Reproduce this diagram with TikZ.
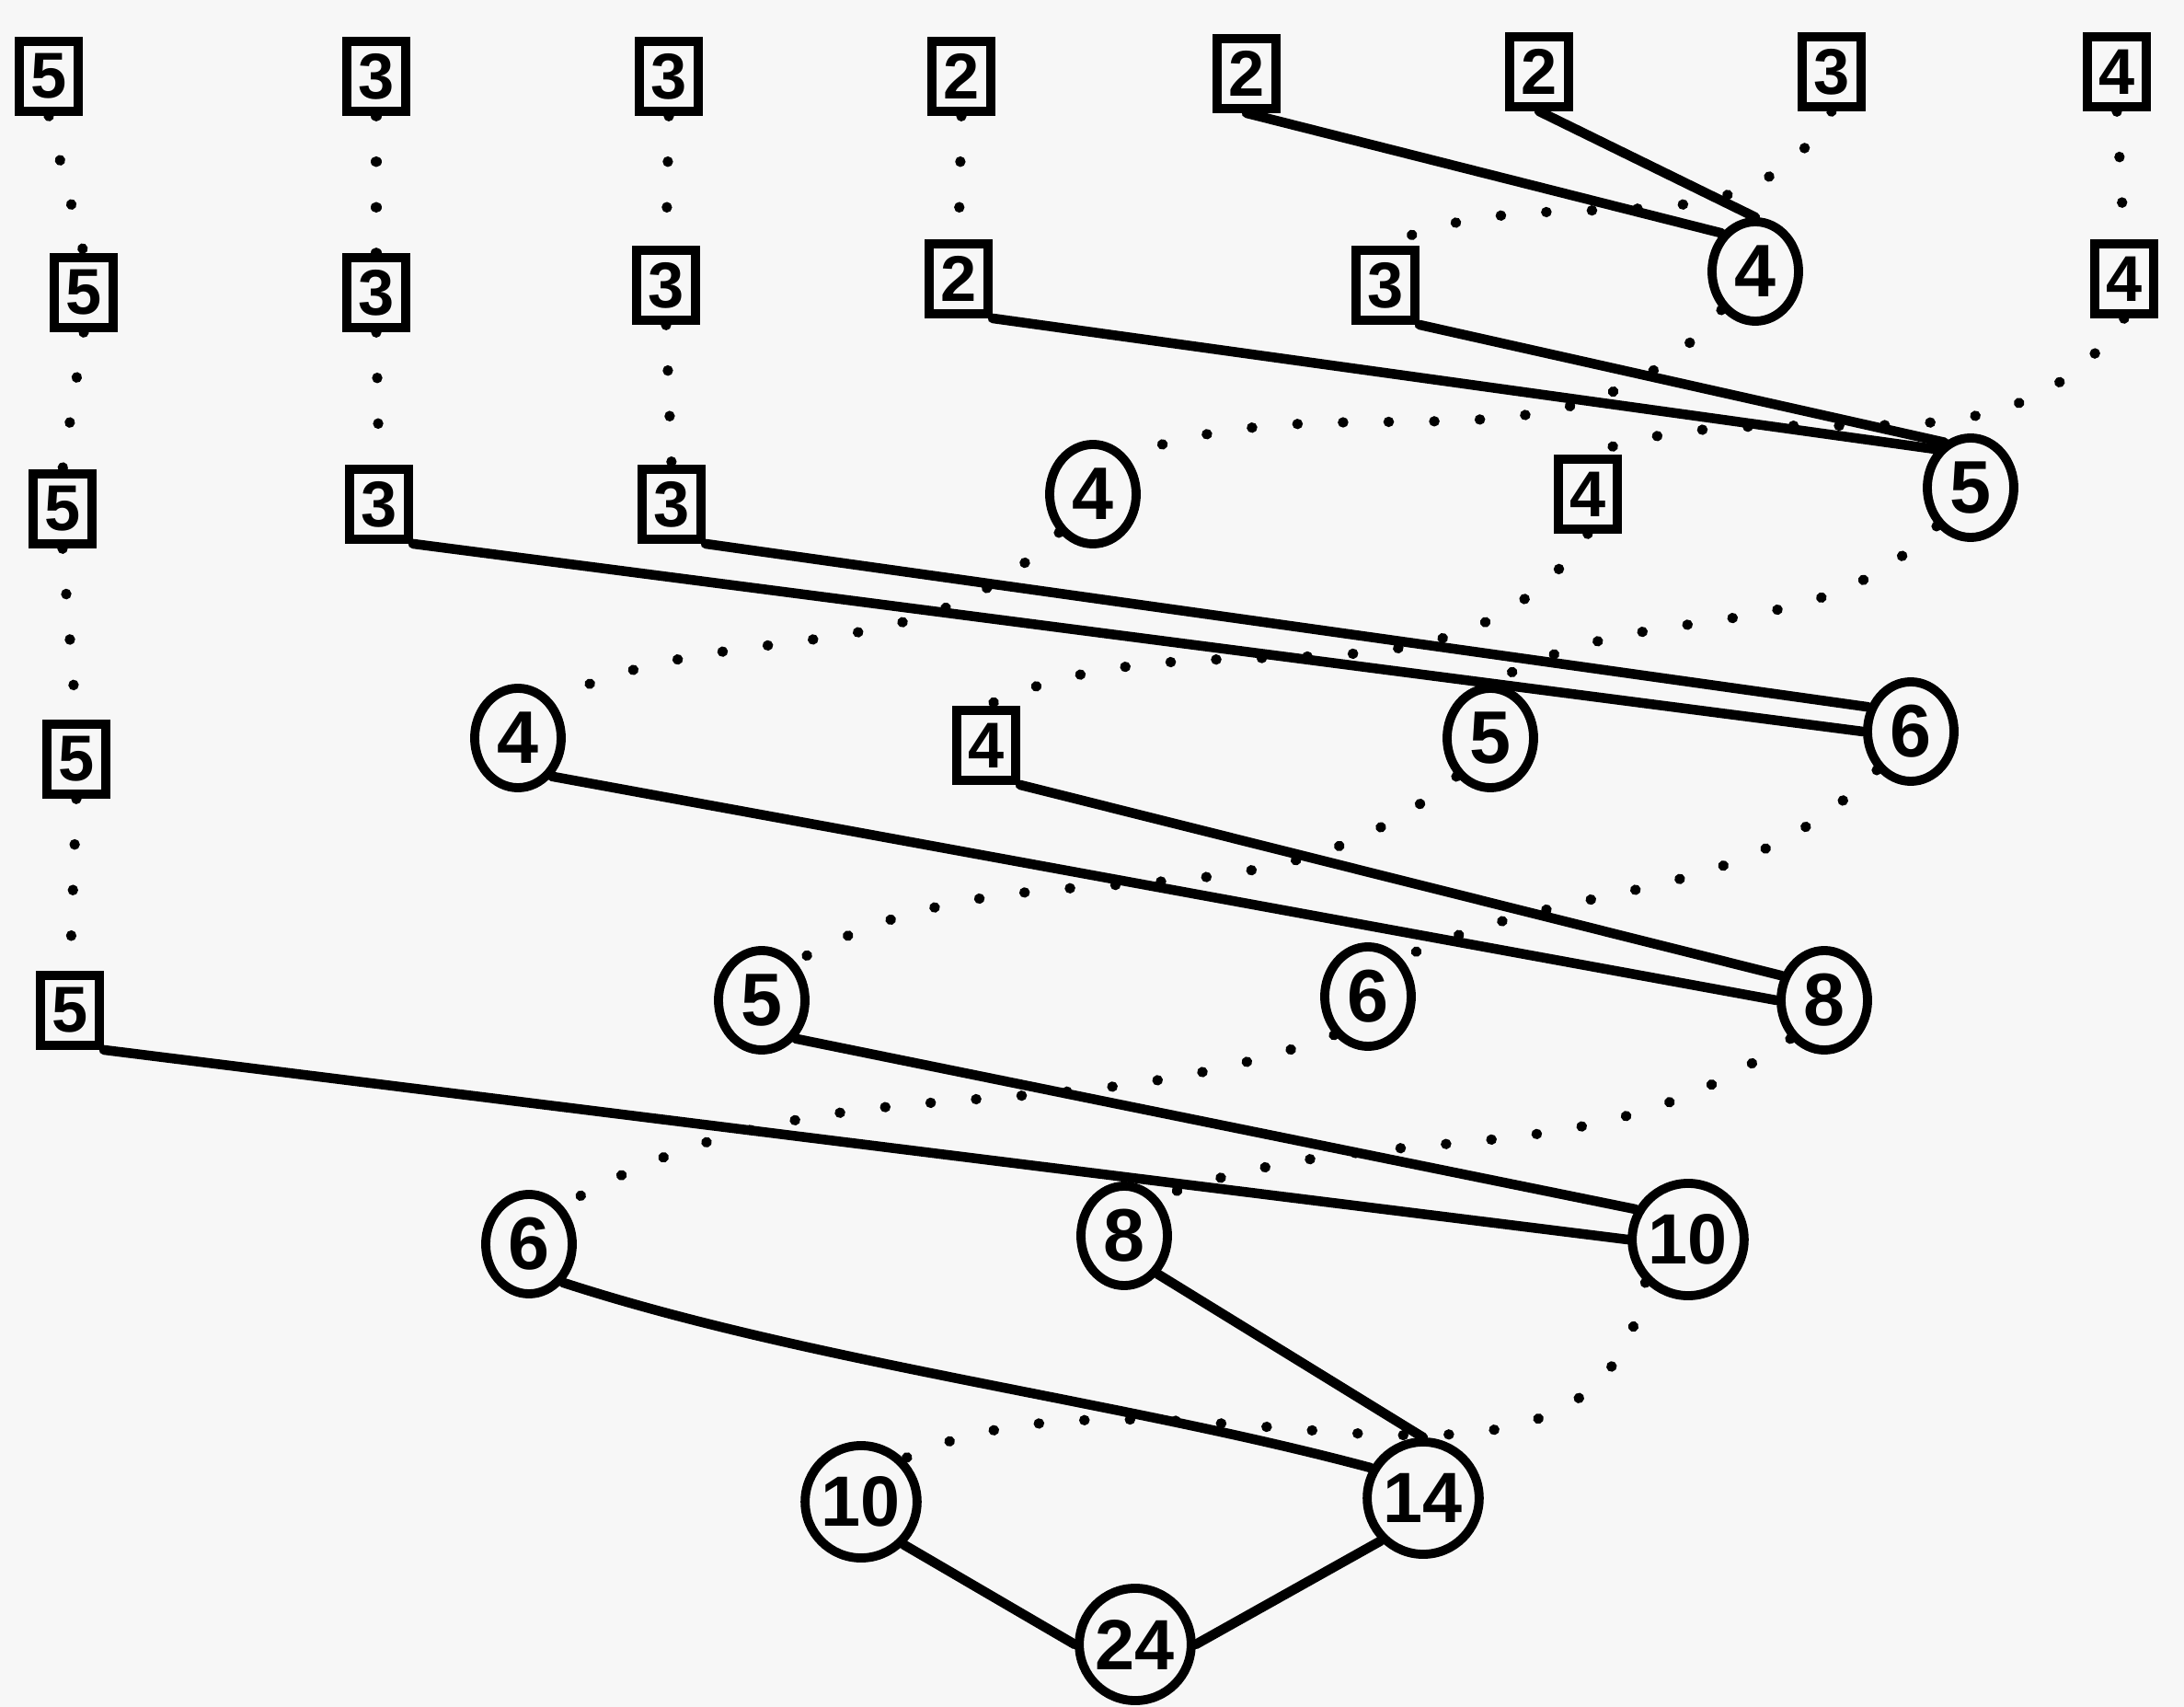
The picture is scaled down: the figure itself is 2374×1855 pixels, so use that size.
\documentclass[tikz,border=0pt]{standalone}
\usepackage{fontspec}
\setmainfont{Liberation Sans}
\usetikzlibrary{shapes.geometric}
\begin{document}
\begin{tikzpicture}[x=0.01cm,y=-0.01cm,
  sq/.style={draw,rectangle,line width=2.8pt,minimum width=0.64cm,minimum height=0.76cm,inner sep=1pt,font=\bfseries\fontsize{20}{22}\selectfont},
  cir/.style={draw,ellipse,line width=2.8pt,minimum width=0.94cm,minimum height=1.08cm,inner sep=0pt,font=\bfseries\fontsize{23}{25}\selectfont},
  cirw/.style={cir,minimum width=1.14cm,minimum height=1.22cm,font=\bfseries\fontsize{22}{24}\selectfont},
  sl/.style={line width=3pt,line cap=round},
  dl/.style={line width=3.2pt,line cap=round,dash pattern=on 0.1pt off 14pt}]
\fill[white!97!black] (0,0) rectangle (2374,1855);
\useasboundingbox (0,0) rectangle (2374,1855);
% row 1
\node[sq] (a1) at (53,83) {5};
\node[sq] (b1) at (409,83) {3};
\node[sq] (c1) at (727,83) {3};
\node[sq] (d1) at (1045,83) {2};
\node[sq] (e1) at (1355,80) {2};
\node[sq] (f1) at (1673,78) {2};
\node[sq] (g1) at (1991,78) {3};
\node[sq] (h1) at (2301,78) {4};
% row 2
\node[sq] (a2) at (91,318) {5};
\node[sq] (b2) at (409,318) {3};
\node[sq] (c2) at (724,310) {3};
\node[sq] (d2) at (1042,303) {2};
\node[sq] (e2) at (1506,310) {3};
\node[cir] (f2) at (1908,295) {4};
\node[sq] (h2) at (2309,303) {4};
% row 3
\node[sq] (a3) at (68,553) {5};
\node[sq] (b3) at (412,548) {3};
\node[sq] (c3) at (730,548) {3};
\node[cir] (d3) at (1188,537) {4};
\node[sq] (e3) at (1726,537) {4};
\node[cir] (f3) at (2142,530) {5};
% row 4
\node[sq] (a4) at (83,825) {5};
\node[cir] (b4) at (563,802) {4};
\node[sq] (c4) at (1072,810) {4};
\node[cir] (d4) at (1620,802) {5};
\node[cir] (e4) at (2077,795) {6};
% row 5
\node[sq] (a5) at (76,1098) {5};
\node[cir] (b5) at (828,1087) {5};
\node[cir] (c5) at (1487,1083) {6};
\node[cir] (d5) at (1983,1087) {8};
% row 6
\node[cir] (a6) at (575,1352) {6};
\node[cir] (b6) at (1222,1343) {8};
\node[cirw] (c6) at (1835,1347) {10};
% row 7
\node[cirw] (a7) at (936,1632) {10};
\node[cirw] (b7) at (1547,1628) {14};
% row 8
\node[cirw] (a8) at (1234,1787) {24};
% carried (dotted)
\draw[dl] (a1.south) -- (a2.north);
\draw[dl] (a2.south) -- (a3.north);
\draw[dl] (a3.south) -- (a4.north);
\draw[dl] (a4.south) -- (a5.north);
\draw[dl] (b1.south) -- (b2.north);
\draw[dl] (b2.south) -- (b3.north);
\draw[dl] (c1.south) -- (c2.north);
\draw[dl] (c2.south) -- (c3.north);
\draw[dl] (d1.south) -- (d2.north);
\draw[dl] (h1.south) -- (h2.north);
\draw[dl] (g1.south) to[out=240,in=25] (e2.north);
\draw[dl] (f2.south west) to[out=230,in=20] (d3.north east);
\draw[dl] (h2.south) to[out=235,in=20] (e3.north);
\draw[dl] (d3.south west) to[out=225,in=25] (b4.north east);
\draw[dl] (e3.south) to[out=235,in=25] (c4.north);
\draw[dl] (f3.south west) to[out=225,in=30] (d4.north);
\draw[dl] (d4.south west) to[out=220,in=30] (b5.north east);
\draw[dl] (e4.south west) to[out=225,in=25] (c5.north east);
\draw[dl] (c5.south west) to[out=200,in=30] (a6.north east);
\draw[dl] (d5.south west) to[out=215,in=20] (b6.north east);
\draw[dl] (c6.south west) to[out=260,in=25] (a7.north east);
% merges (solid)
\draw[sl] (e1.south) -- (f2.north west);
\draw[sl] (f1.south) -- (f2.north);
\draw[sl] (d2.south east) -- (f3.north west);
\draw[sl] (e2.south east) -- (f3.120);
\draw[sl] (b3.south east) -- (e4.west);
\draw[sl] (c3.south east) -- (e4.150);
\draw[sl] (b4.south east) -- (d5.west);
\draw[sl] (c4.south east) -- (d5.150);
\draw[sl] (a5.south east) -- (c6.west);
\draw[sl] (b5.south east) -- (c6.150);
\draw[sl] (a6.south east) to[out=-18,in=165,looseness=0.8] (b7.150);
\draw[sl] (b6.south east) -- (b7.north);
\draw[sl] (a7.south east) -- (a8.west);
\draw[sl] (b7.south west) -- (a8.east);
\end{tikzpicture}
\end{document}
